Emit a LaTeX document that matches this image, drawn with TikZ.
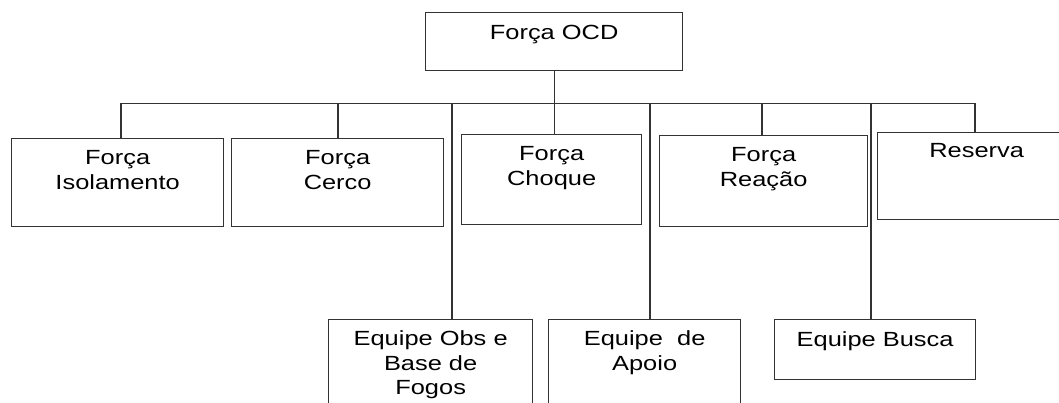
\documentclass[tikz,border=0pt]{standalone}
\usepackage{fontspec}
\setmainfont[FakeStretch=1.24]{Liberation Sans}
\begin{document}
\begin{tikzpicture}[x=1pt,y=-1pt,
  box/.style={draw=black!80, line width=1.3pt, rectangle, inner sep=0pt, anchor=north west},
  conn/.style={draw=black!80, line width=1.3pt},
  lbl/.style={anchor=north, inner sep=0pt, align=center, font=\fontsize{20.5}{24.5}\selectfont}]
\clip (0,0) rectangle (1059,403);
% boxes
\node[box, minimum width=257pt, minimum height=58pt] (ocd) at (425,12) {};
\node[box, minimum width=212pt, minimum height=88pt] (iso) at (11,138) {};
\node[box, minimum width=212pt, minimum height=88pt] (cerco) at (231,138) {};
\node[box, minimum width=180pt, minimum height=90pt] (choque) at (461,134) {};
\node[box, minimum width=208pt, minimum height=91pt] (reacao) at (659,135) {};
\node[box, minimum width=198pt, minimum height=87pt] (reserva) at (877,132) {};
\node[box, minimum width=204pt, minimum height=100pt] (obs) at (328,319) {};
\node[box, minimum width=192pt, minimum height=100pt] (apoio) at (548,319) {};
\node[box, minimum width=201pt, minimum height=60pt] (busca) at (774,319) {};
% labels
\node[lbl] (ocdT) at ([yshift=-12.5pt]ocd.north) {Força OCD};
\node[lbl] (isoT) at ([yshift=-12.5pt]iso.north) {Força\\Isolamento};
\node[lbl] (cercoT) at ([yshift=-12.5pt]cerco.north) {Força\\Cerco};
\node[lbl] (choqueT) at ([yshift=-12.5pt]choque.north) {Força\\Choque};
\node[lbl] (reacaoT) at ([yshift=-12.5pt]reacao.north) {Força\\Reação};
\node[lbl] (reservaT) at ([yshift=-11.5pt]reserva.north) {Reserva};
\node[lbl] (obsT) at ([yshift=-11.5pt]obs.north) {Equipe Obs e\\Base de\\Fogos};
\node[lbl] (apoioT) at ([yshift=-11.5pt]apoio.north) {Equipe\ \ de\\Apoio};
\node[lbl] (buscaT) at ([yshift=-12pt]busca.north) {Equipe Busca};
% bus
\coordinate (b1) at (121,103.5);
\coordinate (b2) at (338,103.5);
\coordinate (b3) at (452,103.5);
\coordinate (b4) at (650,103.5);
\coordinate (b5) at (762,103.5);
\coordinate (b6) at (871,103.5);
\coordinate (b7) at (975,103.5);
\draw[conn] (b1) -- (b7);
\draw[conn] (ocd.south) -- (ocd.south |- choque.north);
\draw[conn] (b1) -- (b1 |- iso.north);
\draw[conn] (b2) -- (b2 |- cerco.north);
\draw[conn] (b3) -- (b3 |- obs.north);
\draw[conn] (b4) -- (b4 |- apoio.north);
\draw[conn] (b5) -- (b5 |- reacao.north);
\draw[conn] (b6) -- (b6 |- busca.north);
\draw[conn] (b7) -- (b7 |- reserva.north);
\end{tikzpicture}
\end{document}
